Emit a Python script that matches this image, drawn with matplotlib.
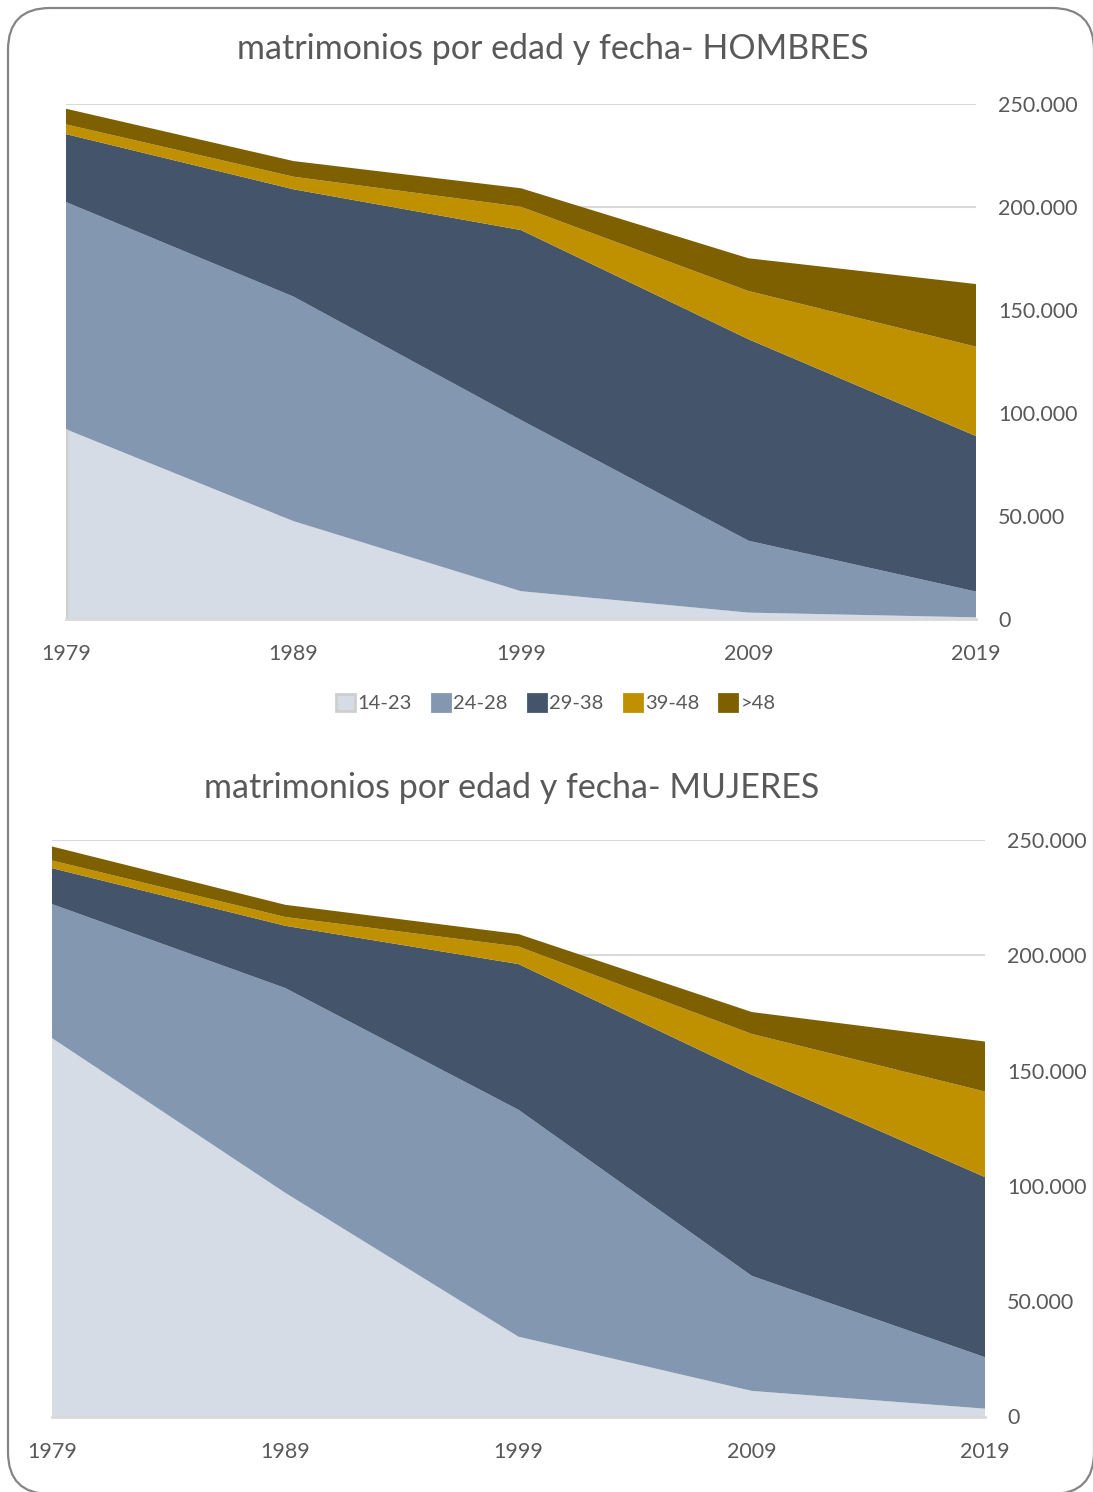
import matplotlib
matplotlib.use("Agg")
import matplotlib.pyplot as plt
from matplotlib.patches import FancyBboxPatch, Patch
from matplotlib.ticker import FuncFormatter

plt.rcParams['font.family'] = ['Lato', 'DejaVu Sans']

# Data: marriages by age group and year
years = [1979, 1989, 1999, 2009, 2019]
groups = ["14-23", "24-28", "29-38", "39-48", ">48"]

hombres_14_23 = [92100, 47500, 13500, 3100, 800]
hombres_24_28 = [110300, 109000, 83100, 34900, 12500]
hombres_29_38 = [33000, 52100, 92200, 97800, 75500]
hombres_39_48 = [4700, 6100, 11300, 23400, 43400]
hombres_48_plus = [7600, 7600, 9000, 15900, 30400]

mujeres_14_23 = [164100, 97000, 34600, 11100, 3400]
mujeres_24_28 = [58100, 88800, 98400, 49900, 22300]
mujeres_29_38 = [15600, 27000, 63200, 87200, 78100]
mujeres_39_48 = [3300, 3800, 7600, 17700, 37100]
mujeres_48_plus = [6100, 5300, 5400, 9500, 21700]

y_ticks = [0, 50000, 100000, 150000, 200000, 250000]

colors = ["#D6DCE5", "#8497B0", "#44546A", "#BF9000", "#7F6000"]
text_color = "#595959"
grid_color = "#D9D9D9"

W, H = 1093, 1492
fig = plt.figure(figsize=(W / 100, H / 100), dpi=100)

# Rounded outer frame
frame = FancyBboxPatch((8 / 100, (H - 1494) / 100), (1094 - 8) / 100, (1494 - 8) / 100,
                       boxstyle="round,pad=0,rounding_size=0.42",
                       transform=fig.dpi_scale_trans, facecolor="none",
                       edgecolor="#858585", linewidth=1.6, zorder=-1)
fig.patches.append(frame)


def thousands(v, _pos):
    return f"{int(v):,}".replace(",", ".")


def area_panel(rect, series, title, title_xy, left_edge=False):
    ax = fig.add_axes(rect)
    ax.patch.set_alpha(0)
    ax.stackplot(years, *series, colors=colors, linewidth=0, zorder=2)
    if left_edge:
        ax.plot([years[0], years[0]], [0, series[0][0]], color="#D0CECE",
                linewidth=2.5, zorder=3, solid_capstyle="butt")
    ax.set_xlim(years[0], years[-1])
    ax.set_ylim(0, y_ticks[-1])
    ax.set_xticks(years)
    ax.set_xticklabels([str(y) for y in years])
    ax.set_yticks(y_ticks)
    ax.yaxis.set_major_formatter(FuncFormatter(thousands))
    ax.yaxis.tick_right()
    ax.tick_params(axis="y", length=0, pad=16, labelsize=15.5, labelcolor=text_color)
    ax.tick_params(axis="x", length=0, pad=18, labelsize=15.5, labelcolor=text_color)
    ax.grid(axis="y", color=grid_color, linewidth=1.5, zorder=1)
    ax.set_axisbelow(True)
    for side in ("top", "left", "right"):
        ax.spines[side].set_visible(False)
    ax.spines["bottom"].set_color(grid_color)
    ax.spines["bottom"].set_linewidth(2)
    ax.spines["bottom"].set_zorder(4)
    fig.text(title_xy[0] / W, 1 - title_xy[1] / H, title, ha="center", va="center",
             fontsize=24.5, color=text_color)
    return ax


area_panel([66 / W, 1 - 619 / H, (976 - 66) / W, (619 - 104) / H],
           [hombres_14_23, hombres_24_28, hombres_29_38, hombres_39_48, hombres_48_plus],
           "matrimonios por edad y fecha- HOMBRES", (553, 49), left_edge=True)

area_panel([52 / W, 1 - 1416.5 / H, (985 - 52) / W, (1416.5 - 840) / H],
           [mujeres_14_23, mujeres_24_28, mujeres_29_38, mujeres_39_48, mujeres_48_plus],
           "matrimonios por edad y fecha- MUJERES", (512, 788))

handles = []
for i, (g, c) in enumerate(zip(groups, colors)):
    edge = "#D0CECE" if i == 0 else c
    handles.append(Patch(facecolor=c, edgecolor=edge, linewidth=2, label=g))

fig.legend(handles=handles, loc="center", bbox_to_anchor=(556 / W, 1 - 703 / H),
           ncol=5, frameon=False, fontsize=14.5, handlelength=0.9, handleheight=0.9,
           handletextpad=0.15, columnspacing=1.0, labelcolor=text_color)

fig.savefig("out.png", dpi=100)
